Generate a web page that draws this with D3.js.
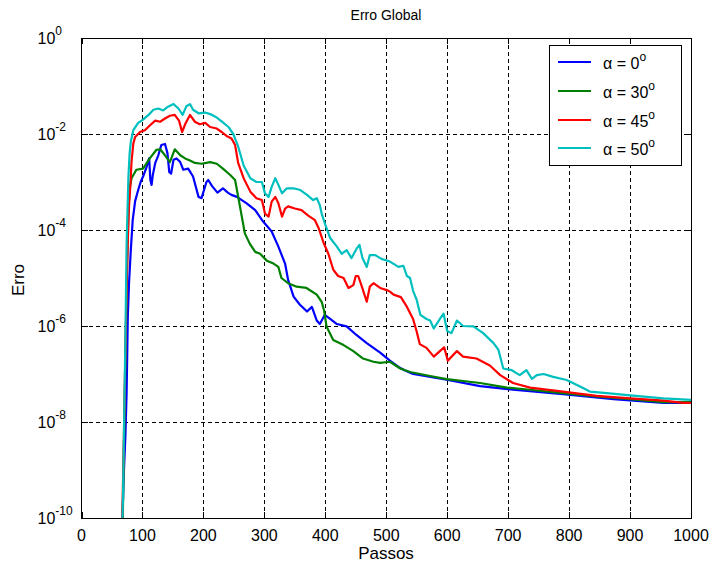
<!DOCTYPE html>
<html>
<head>
<meta charset="utf-8">
<script src="https://cdn.jsdelivr.net/npm/d3@7"></script>
<style>
  html, body { margin: 0; padding: 0; background: #fff; }
  svg { display: block; }
  text { font-family: "Liberation Sans", Arial, sans-serif; fill: #000; }
</style>
</head>
<body>
<svg id="chart" width="709" height="567"></svg>
<script>
// Global error vs. number of steps, one series per angle alpha
const seriesNames = ["0", "30", "45", "50"];
const seriesColors = ["#0000ff", "#008000", "#ff0000", "#00bfbf"];

const stepsA0 = [66,69,72,74,75,76,78,81,84,88,93,97,101,107,111,113,115,117,121,126,131,137,141,144,147,151,156,162,167,175,183,192,197,205,208,214,223,232,240,246,255,271,285,298,312,323,334,339,348,358,370,378,386,391,399,408,419,435,451,468,490,506,520,530,544,599,654,708,790,873,955,1000];
const erroA0 = [2.5e-11,6.3e-10,5.0e-9,4.0e-8,2.5e-7,1.6e-6,7.9e-6,4.0e-5,1.6e-4,4.0e-4,6.8e-4,1.0e-3,1.3e-3,2.1e-3,3.1e-3,1.1e-3,8.7e-4,1.4e-3,2.5e-3,3.6e-3,5.9e-3,6.2e-3,4.0e-3,1.6e-3,1.5e-3,2.9e-3,3.1e-3,2.6e-3,1.8e-3,1.9e-3,1.3e-3,4.9e-4,4.6e-4,1.0e-3,1.1e-3,8.3e-4,6.0e-4,7.4e-4,6.0e-4,5.4e-4,4.9e-4,3.6e-4,2.6e-4,1.5e-4,9.3e-5,4.5e-5,2.0e-5,9.1e-6,4.1e-6,2.8e-6,2.0e-6,2.5e-6,1.3e-6,1.1e-6,1.7e-6,1.4e-6,1.1e-6,9.8e-7,6.5e-7,4.4e-7,2.8e-7,1.9e-7,1.4e-7,1.2e-7,1.0e-7,7.6e-8,5.6e-8,4.7e-8,3.8e-8,3.0e-8,2.5e-8,2.5e-8];

const stepsA30 = [67,69,71,73,75,77,79,82,90,101,112,123,129,137,145,153,162,170,178,186,197,211,222,232,244,252,257,263,268,276,285,293,304,315,323,328,339,353,369,386,394,398,402,413,430,446,462,479,490,506,523,539,572,599,654,698,736,790,845,900,955,1000];
const erroA30 = [2.5e-11,1.0e-9,3.2e-8,1.0e-6,2.5e-5,2.5e-4,7.1e-4,1.2e-3,1.8e-3,1.9e-3,3.1e-3,4.7e-3,4.8e-3,3.6e-3,2.6e-3,4.8e-3,3.6e-3,3.1e-3,2.8e-3,2.5e-3,2.4e-3,2.6e-3,2.4e-3,1.9e-3,1.4e-3,1.1e-3,5.0e-4,1.9e-4,8.5e-5,5.2e-5,3.5e-5,3.2e-5,2.3e-5,2.0e-5,1.7e-5,1.0e-5,7.8e-6,6.6e-6,6.2e-6,4.5e-6,3.2e-6,2.1e-6,9.8e-7,5.1e-7,4.0e-7,3.0e-7,2.1e-7,1.8e-7,1.7e-7,1.8e-7,1.3e-7,1.1e-7,9.1e-8,7.8e-8,6.5e-8,5.2e-8,4.7e-8,4.0e-8,3.4e-8,3.0e-8,2.6e-8,2.6e-8];

const stepsA45 = [66,68,70,72,74,76,78,80,82,85,88,96,104,112,121,129,137,145,153,160,165,171,178,186,194,203,211,222,230,238,246,252,257,266,277,287,296,301,307,312,318,323,329,334,339,350,361,372,383,389,397,405,413,421,430,438,446,450,454,460,468,473,479,490,501,506,512,524,534,544,550,555,566,578,588,595,601,616,626,648,670,687,708,736,790,845,900,955,987,1000];
const erroA45 = [2.5e-11,5.0e-10,1.0e-8,3.2e-7,6.3e-6,6.3e-5,3.2e-4,7.9e-4,2.6e-3,6.3e-3,8.7e-3,1.1e-2,1.2e-2,1.5e-2,1.9e-2,1.8e-2,2.1e-2,2.4e-2,2.5e-2,1.9e-2,1.1e-2,1.7e-2,2.5e-2,1.8e-2,1.6e-2,1.7e-2,1.4e-2,1.3e-2,1.1e-2,9.1e-3,8.1e-3,5.9e-3,2.5e-3,1.2e-3,6.3e-4,4.6e-4,4.2e-4,2.2e-4,1.9e-4,3.9e-4,4.9e-4,3.6e-4,1.9e-4,2.8e-4,3.1e-4,2.8e-4,2.6e-4,2.0e-4,1.6e-4,1.1e-4,5.5e-5,3.2e-5,1.5e-5,1.1e-5,1.0e-5,6.2e-6,7.1e-6,1.1e-5,1.1e-5,6.6e-6,3.2e-6,6.6e-6,7.8e-6,6.2e-6,5.6e-6,5.2e-6,4.5e-6,4.0e-6,2.5e-6,1.4e-6,7.6e-7,4.2e-7,3.5e-7,2.3e-7,3.0e-7,3.6e-7,1.9e-7,3.0e-7,2.3e-7,2.1e-7,1.5e-7,9.5e-8,6.5e-8,5.2e-8,4.3e-8,3.5e-8,3.1e-8,2.8e-8,2.5e-8,2.5e-8];

const stepsA50 = [66,68,70,72,74,77,79,81,85,93,101,110,118,126,134,142,151,159,166,172,178,183,192,203,211,222,233,241,249,257,266,277,287,296,301,307,312,318,323,329,337,348,359,370,380,386,391,394,400,408,419,427,435,443,452,456,461,468,473,482,492,506,520,528,534,539,544,550,556,566,572,578,588,594,600,607,616,626,643,659,676,684,692,706,719,730,739,747,758,774,796,818,834,862,900,955,1000];
const erroA50 = [2.5e-11,2.5e-10,1.3e-8,5.0e-7,5.0e-5,1.3e-3,4.0e-3,7.1e-3,1.2e-2,1.7e-2,2.0e-2,2.5e-2,3.2e-2,3.4e-2,3.1e-2,3.7e-2,4.2e-2,3.4e-2,2.5e-2,3.8e-2,4.2e-2,3.2e-2,2.7e-2,2.8e-2,2.6e-2,2.2e-2,1.7e-2,1.4e-2,1.0e-2,5.5e-3,2.2e-3,1.2e-3,1.0e-3,1.0e-3,5.8e-4,4.9e-4,7.9e-4,1.2e-3,8.7e-4,5.8e-4,7.4e-4,7.4e-4,6.8e-4,5.4e-4,4.2e-4,4.6e-4,3.3e-4,2.2e-4,1.3e-4,6.8e-5,4.5e-5,3.2e-5,3.8e-5,2.6e-5,4.2e-5,4.9e-5,2.6e-5,1.7e-5,3.0e-5,3.0e-5,2.5e-5,2.2e-5,1.7e-5,1.8e-5,1.1e-5,1.0e-5,5.4e-6,3.5e-6,1.7e-6,1.4e-6,1.3e-6,8.9e-7,1.4e-6,1.8e-6,7.9e-7,7.1e-7,1.3e-6,1.0e-6,9.8e-7,7.1e-7,4.4e-7,3.2e-7,1.3e-7,1.2e-7,9.5e-8,1.2e-7,7.9e-8,9.5e-8,1.0e-7,8.7e-8,7.5e-8,5.5e-8,4.3e-8,4.0e-8,3.6e-8,3.1e-8,2.9e-8];

const xTicks = [0,100,200,300,400,500,600,700,800,900,1000];
const yTickExponents = [0,-2,-4,-6,-8,-10];

const allSteps = [stepsA0, stepsA30, stepsA45, stepsA50];
const allErro = [erroA0, erroA30, erroA45, erroA50];

const svg = d3.select("#chart");
const plot = { left: 81.5, right: 691, top: 38, bottom: 518 };

const x = d3.scaleLinear().domain([0, 1000]).range([plot.left, plot.right]);
const y = d3.scaleLog().domain([1e-10, 1]).range([plot.bottom, plot.top]);

svg.append("rect").attr("width", 709).attr("height", 567).attr("fill", "#fff");

// dashed grid
const grid = svg.append("g").attr("stroke", "#000").attr("stroke-width", 1)
  .attr("stroke-dasharray", "4,3").attr("shape-rendering", "crispEdges");
grid.selectAll("line.gx").data(xTicks.slice(1, -1)).join("line")
  .attr("x1", d => Math.round(x(d)) + 0.5).attr("x2", d => Math.round(x(d)) + 0.5)
  .attr("y1", plot.top).attr("y2", plot.bottom);
grid.selectAll("line.gy").data(yTickExponents.slice(1, -1)).join("line")
  .attr("y1", d => Math.round(y(Math.pow(10, d))) + 0.5).attr("y2", d => Math.round(y(Math.pow(10, d))) + 0.5)
  .attr("x1", plot.left).attr("x2", plot.right);

// curves, clipped to the axes box
svg.append("clipPath").attr("id", "clip").append("rect")
  .attr("x", plot.left).attr("y", plot.top)
  .attr("width", plot.right - plot.left).attr("height", plot.bottom - plot.top);

const line = d3.line().x(d => x(d[0])).y(d => y(d[1]));
const curves = svg.append("g").attr("clip-path", "url(#clip)");
allSteps.forEach((steps, i) => {
  const pts = steps.map((s, j) => [s, allErro[i][j]]);
  curves.append("path").datum(pts)
    .attr("fill", "none").attr("stroke", seriesColors[i])
    .attr("stroke-width", 2.2).attr("stroke-linejoin", "round")
    .attr("d", line);
});

// axes box with inward ticks
const axes = svg.append("g").attr("stroke", "#000").attr("stroke-width", 1).attr("shape-rendering", "crispEdges");
axes.append("rect").attr("x", plot.left).attr("y", plot.top)
  .attr("width", plot.right - plot.left).attr("height", plot.bottom - plot.top).attr("fill", "none");
xTicks.forEach(t => {
  const px = Math.round(x(t)) + 0.5;
  axes.append("line").attr("x1", px).attr("x2", px).attr("y1", plot.bottom).attr("y2", plot.bottom - 6);
  axes.append("line").attr("x1", px).attr("x2", px).attr("y1", plot.top).attr("y2", plot.top + 6);
});
yTickExponents.forEach(e => {
  const py = Math.round(y(Math.pow(10, e))) + 0.5;
  axes.append("line").attr("y1", py).attr("y2", py).attr("x1", plot.left).attr("x2", plot.left + 6);
  axes.append("line").attr("y1", py).attr("y2", py).attr("x1", plot.right).attr("x2", plot.right - 6);
});

// tick labels
svg.append("g").selectAll("text").data(xTicks).join("text")
  .attr("x", d => x(d)).attr("y", 541)
  .attr("text-anchor", "middle").attr("font-size", 16)
  .text(d => d);

const yl = svg.append("g").selectAll("text").data(yTickExponents).join("text")
  .attr("x", 37.5).attr("y", d => y(Math.pow(10, d)) + 6)
  .attr("font-size", 16);
yl.append("tspan").text("10");
yl.append("tspan").attr("font-size", 12).attr("dy", -9).text(d => d === 0 ? "0" : "-" + Math.abs(d));

// title and axis labels
svg.append("text").attr("x", 386).attr("y", 20).attr("text-anchor", "middle")
  .attr("font-size", 14).text("Erro Global");
svg.append("text").attr("x", 386).attr("y", 559).attr("text-anchor", "middle")
  .attr("font-size", 17).text("Passos");
svg.append("text").attr("transform", "translate(24,280) rotate(-90)")
  .attr("text-anchor", "middle").attr("font-size", 17).text("Erro");

// legend
const legend = svg.append("g");
legend.append("rect").attr("x", 549.5).attr("y", 45.5).attr("width", 132).attr("height", 120)
  .attr("fill", "#fff").attr("stroke", "#000").attr("stroke-width", 1).attr("shape-rendering", "crispEdges");
const rowY = [62, 91, 120, 148];
seriesNames.forEach((name, i) => {
  legend.append("line").attr("x1", 558).attr("x2", 591).attr("y1", rowY[i]).attr("y2", rowY[i])
    .attr("stroke", seriesColors[i]).attr("stroke-width", 2.2);
  const t = legend.append("text").attr("x", 603).attr("y", rowY[i] + 7).attr("font-size", 16);
  t.append("tspan").text("\u03B1 = " + name);
  t.append("tspan").attr("font-size", 12).attr("dy", -8).text("o");
});
</script>
</body>
</html>
